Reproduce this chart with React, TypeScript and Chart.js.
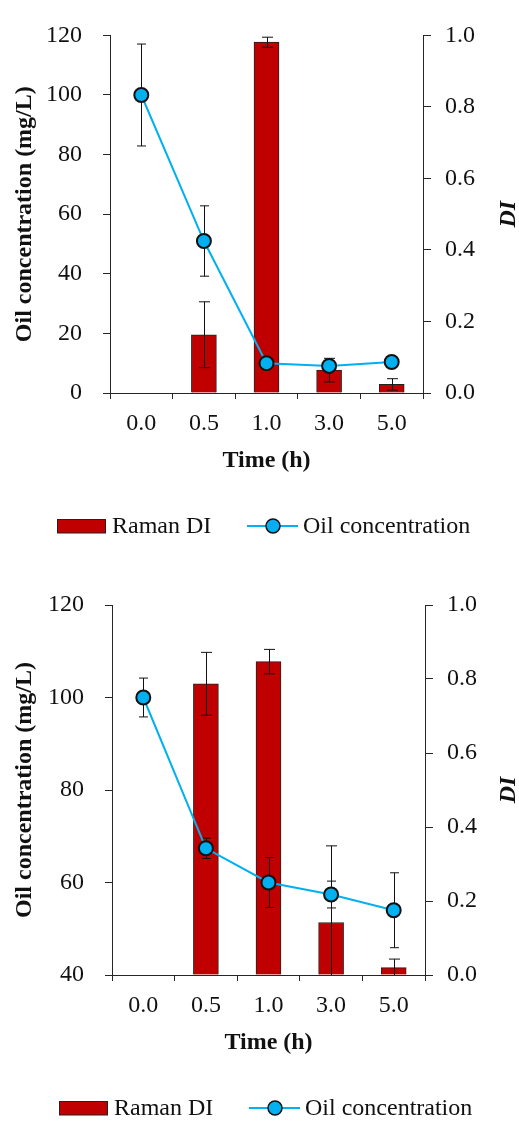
import React, { useEffect, useRef } from 'react';
import { Chart, registerables } from 'chart.js';

Chart.register(...registerables);

// Sampling times (h)
const TIMES = ['0.0', '0.5', '1.0', '3.0', '5.0'];

// Upper panel
const OIL_A = [100, 51, 10, 9.1, 10.4];
const OIL_A_ERR = [17.1, 11.8, 0, 0, 0];
const DI_A = [null, 0.163, 0.981, 0.064, 0.024];
const DI_A_ERR = [0, 0.092, 0.014, 0.033, 0.016];

// Lower panel
const OIL_B = [100, 67.4, 60, 57.4, 54];
const OIL_B_ERR = [4.2, 2.2, 5.4, 2.9, 8.1];
const DI_B = [null, 0.787, 0.847, 0.142, 0.02];
const DI_B_ERR = [0, 0.085, 0.033, 0.207, 0.023];

const W = 519;
const H = 561;
const SERIF = '"Liberation Serif", "Times New Roman", serif';
const TEXT = '#111111';
const AXIS = '#262626';
const BAR_RED = '#C00000';
const LINE_BLUE = '#00B0F0';

type PanelProps = {
  oil: number[];
  oilErr: number[];
  di: (number | null)[];
  diErr: number[];
  yMin: number;
  yMax: number;
  plot: { left: number; right: number; top: number; bottom: number };
};

function drawErrorBar(ctx: CanvasRenderingContext2D, x: number, y0: number, y1: number, cap: number, a: any) {
  ctx.beginPath();
  ctx.moveTo(x, y0);
  ctx.lineTo(x, y1);
  for (const y of [y0, y1]) {
    if (y >= a.top - 0.5 && y <= a.bottom + 0.5) {
      ctx.moveTo(x - cap / 2, y);
      ctx.lineTo(x + cap / 2, y);
    }
  }
  ctx.stroke();
}

function Panel({ oil, oilErr, di, diErr, yMin, yMax, plot }: PanelProps) {
  const ref = useRef<HTMLCanvasElement>(null);

  useEffect(() => {
    if (!ref.current) return;

    const errorBars = {
      id: 'errorBars',
      beforeDatasetDraw(chart: any, args: any) {
        if (args.index !== 0) return;
        const { ctx, chartArea: a } = chart;
        const y = chart.scales.y;
        const y1 = chart.scales.y1;
        ctx.save();
        ctx.beginPath();
        ctx.rect(a.left, a.top - 2, a.right - a.left, a.bottom - a.top + 2);
        ctx.clip();
        ctx.strokeStyle = '#111';
        ctx.lineWidth = 1;
        const barMeta = chart.getDatasetMeta(1);
        di.forEach((v, i) => {
          if (v == null || !diErr[i]) return;
          const el = barMeta.data[i];
          drawErrorBar(ctx, Math.round(el.x) + 0.5, y1.getPixelForValue(v + diErr[i]), y1.getPixelForValue(v - diErr[i]), 11, a);
        });
        const lineMeta = chart.getDatasetMeta(0);
        oil.forEach((v, i) => {
          if (!oilErr[i]) return;
          const el = lineMeta.data[i];
          drawErrorBar(ctx, Math.round(el.x) + 0.5, y.getPixelForValue(v + oilErr[i]), y.getPixelForValue(v - oilErr[i]), 9, a);
        });
        ctx.restore();
      },
    };

    const panelText = {
      id: 'panelText',
      afterDraw(chart: any) {
        const { ctx, chartArea: a } = chart;
        const midY = (a.top + a.bottom) / 2;
        ctx.save();
        ctx.fillStyle = TEXT;
        ctx.textAlign = 'center';
        ctx.textBaseline = 'middle';

        ctx.save();
        ctx.font = `bold 24px ${SERIF}`;
        ctx.translate(25, midY);
        ctx.rotate(-Math.PI / 2);
        ctx.fillText('Oil concentration (mg/L)', 0, 0);
        ctx.restore();

        ctx.save();
        ctx.font = `italic bold 24px ${SERIF}`;
        ctx.translate(509, midY);
        ctx.rotate(-Math.PI / 2);
        ctx.fillText('DI', 0, 0);
        ctx.restore();

        ctx.font = `bold 24px ${SERIF}`;
        ctx.textBaseline = 'alphabetic';
        ctx.fillText('Time (h)', (a.left + a.right) / 2, a.bottom + 74);

        // legend
        const base = a.bottom + 140;
        const l = a.left;
        ctx.fillStyle = BAR_RED;
        ctx.fillRect(l - 53, a.bottom + 126.5, 49, 13.5);
        ctx.strokeStyle = '#222';
        ctx.lineWidth = 1;
        ctx.strokeRect(l - 52.5, a.bottom + 126.5, 48, 13.5);
        ctx.font = `24px ${SERIF}`;
        ctx.fillStyle = TEXT;
        ctx.textAlign = 'left';
        ctx.fillText('Raman DI', l + 2, base);

        const ly = a.bottom + 133;
        ctx.strokeStyle = LINE_BLUE;
        ctx.lineWidth = 2;
        ctx.beginPath();
        ctx.moveTo(l + 137, ly);
        ctx.lineTo(l + 188, ly);
        ctx.stroke();
        ctx.beginPath();
        ctx.arc(l + 163, ly, 7, 0, Math.PI * 2);
        ctx.fillStyle = LINE_BLUE;
        ctx.fill();
        ctx.strokeStyle = '#111';
        ctx.lineWidth = 1.5;
        ctx.stroke();
        ctx.fillStyle = TEXT;
        ctx.fillText('Oil concentration', l + 193, base);
        ctx.restore();
      },
    };

    const chart = new Chart(ref.current, {
      type: 'bar',
      data: {
        labels: TIMES,
        datasets: [
          {
            type: 'line',
            label: 'Oil concentration',
            data: oil,
            yAxisID: 'y',
            order: 0,
            borderColor: LINE_BLUE,
            borderWidth: 2,
            backgroundColor: LINE_BLUE,
            pointRadius: 7,
            pointBorderColor: '#111',
            pointBorderWidth: 2,
            pointBackgroundColor: LINE_BLUE,
            tension: 0,
          } as any,
          {
            type: 'bar',
            label: 'Raman DI',
            data: di,
            yAxisID: 'y1',
            order: 1,
            backgroundColor: BAR_RED,
            borderColor: '#222',
            borderWidth: 1,
            barThickness: 25,
          } as any,
        ],
      },
      options: {
        responsive: false,
        maintainAspectRatio: false,
        animation: false,
        events: [],
        layout: { padding: { top: plot.top, left: 0, right: 0, bottom: 0 } },
        plugins: { legend: { display: false }, tooltip: { enabled: false } },
        scales: {
          x: {
            type: 'category',
            offset: true,
            grid: { display: true, drawOnChartArea: false, drawTicks: true, tickLength: 6, color: AXIS, offset: true },
            border: { display: true, color: AXIS, width: 1 },
            ticks: { font: { family: SERIF, size: 24 }, color: TEXT, padding: 10, maxRotation: 0, autoSkip: false },
            afterFit: (s: any) => {
              s.height = H - plot.bottom;
            },
          },
          y: {
            position: 'left',
            min: yMin,
            max: yMax,
            grid: { display: true, drawOnChartArea: false, drawTicks: true, tickLength: 7, color: AXIS },
            border: { display: true, color: AXIS, width: 1 },
            ticks: { stepSize: 20, font: { family: SERIF, size: 24 }, color: TEXT, padding: 21 },
            afterFit: (s: any) => {
              s.width = plot.left;
            },
          },
          y1: {
            position: 'right',
            min: 0,
            max: 1,
            grid: { display: true, drawOnChartArea: false, drawTicks: true, tickLength: 8, color: AXIS },
            border: { display: true, color: AXIS, width: 1 },
            ticks: {
              stepSize: 0.2,
              font: { family: SERIF, size: 24 },
              color: TEXT,
              padding: 14,
              callback: (v: any) => Number(v).toFixed(1),
            },
            afterFit: (s: any) => {
              s.width = W - plot.right;
            },
          },
        },
      } as any,
      plugins: [errorBars, panelText],
    });

    return () => chart.destroy();
  }, []);

  return <canvas ref={ref} width={W} height={H} style={{ display: 'block', width: W, height: H }} />;
}

export default function App() {
  return (
    <div style={{ position: 'absolute', left: 0, top: 0, width: W, height: 1122, background: '#fff' }}>
      <Panel
        oil={OIL_A}
        oilErr={OIL_A_ERR}
        di={DI_A}
        diErr={DI_A_ERR}
        yMin={0}
        yMax={120}
        plot={{ left: 110, right: 423, top: 24, bottom: 393 }}
      />
      <Panel
        oil={OIL_B}
        oilErr={OIL_B_ERR}
        di={DI_B}
        diErr={DI_B_ERR}
        yMin={40}
        yMax={120}
        plot={{ left: 112, right: 425, top: 44, bottom: 414 }}
      />
    </div>
  );
}
